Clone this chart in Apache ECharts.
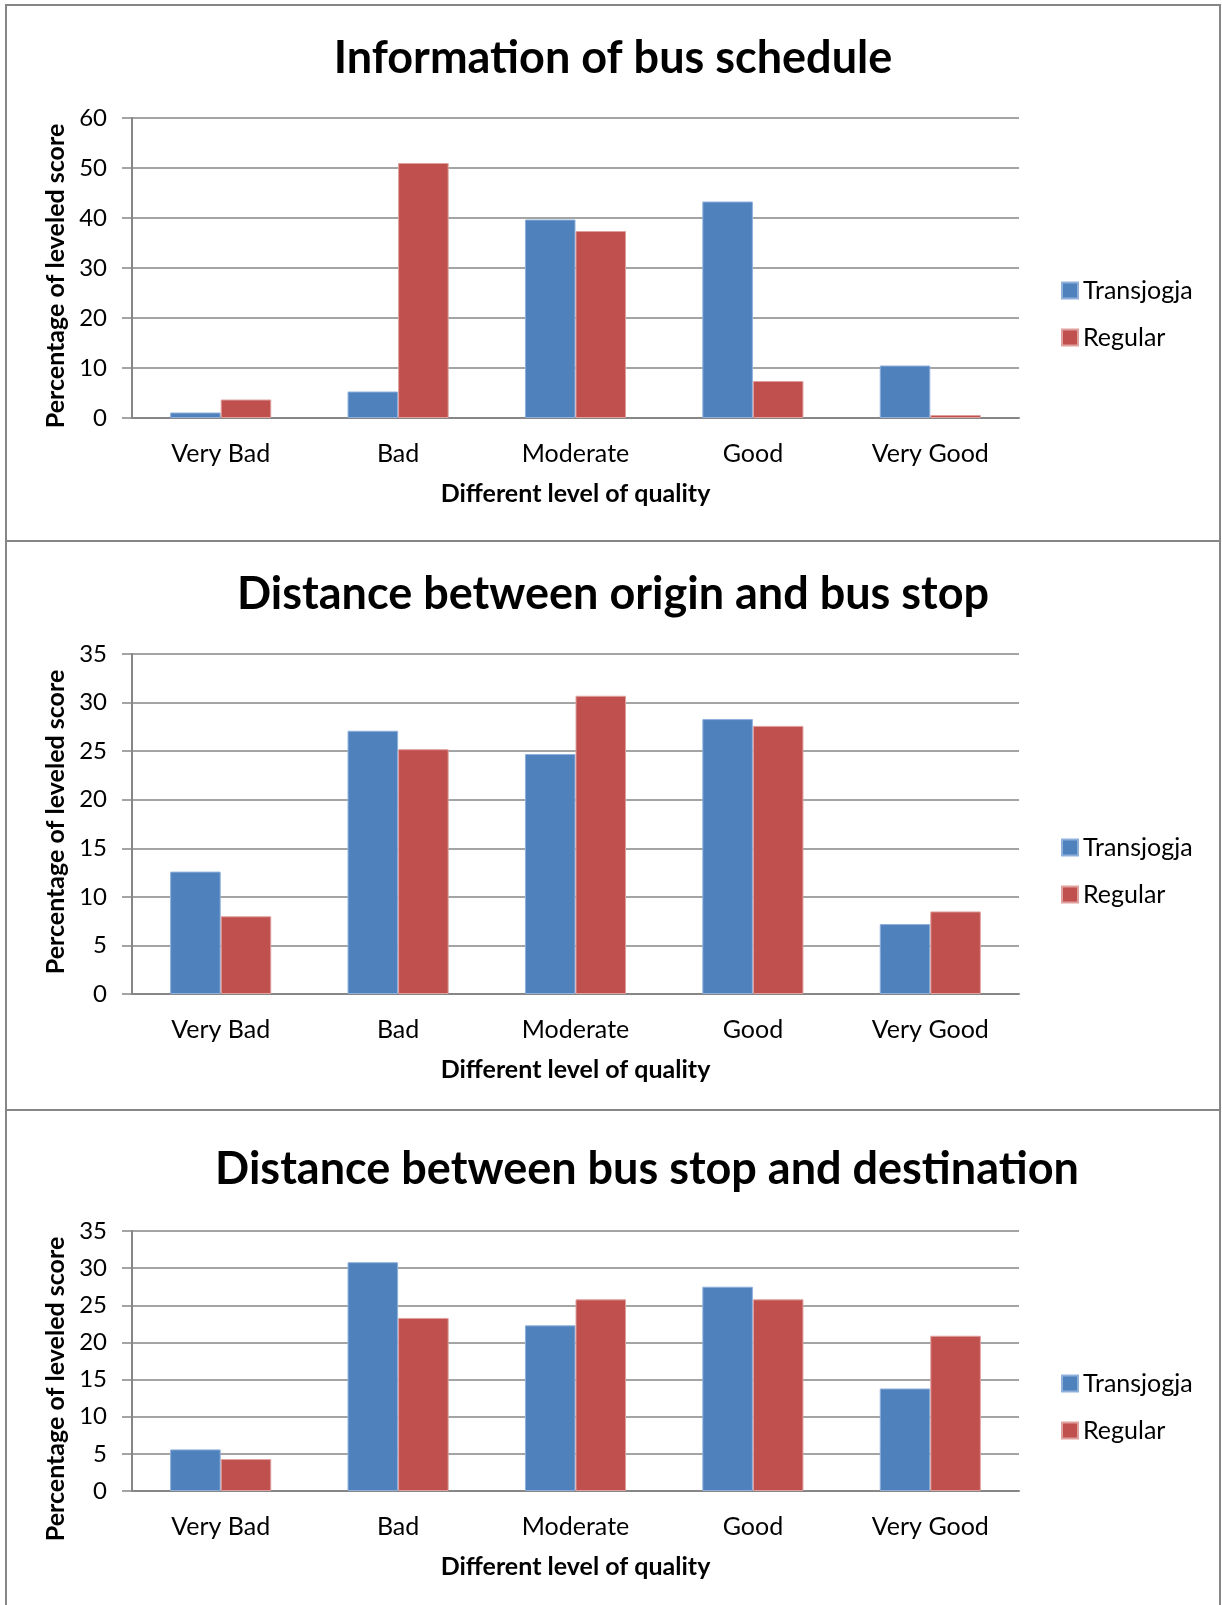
<!DOCTYPE html>
<html>
<head>
<meta charset="utf-8">
<script src="https://cdn.jsdelivr.net/npm/echarts@6/dist/echarts.min.js"></script>
<style>
  html, body { margin: 0; padding: 0; background: #ffffff; }
  #chart { width: 1222px; height: 1605px; }
</style>
</head>
<body>
<div id="chart"></div>
<script>
// Quality levels shared by all three panels
const categories = ['Very Bad', 'Bad', 'Moderate', 'Good', 'Very Good'];
const seriesNames = ['Transjogja', 'Regular'];

// Panel 1: Information of bus schedule (%)
const scheduleTransjogja = [1.1, 5.3, 39.7, 43.3, 10.5];
const scheduleRegular = [3.7, 51.0, 37.4, 7.4, 0.6];

// Panel 2: Distance between origin and bus stop (%)
const originTransjogja = [12.6, 27.1, 24.7, 28.3, 7.2];
const originRegular = [8.0, 25.2, 30.7, 27.6, 8.5];

// Panel 3: Distance between bus stop and destination (%)
const destTransjogja = [5.6, 30.8, 22.3, 27.5, 13.8];
const destRegular = [4.3, 23.3, 25.8, 25.8, 20.9];

const titles = [
  'Information of bus schedule',
  'Distance between origin and bus stop',
  'Distance between bus stop and destination'
];
const yMax = [60, 35, 35];
const yStep = [10, 5, 5];
const yAxisTitle = 'Percentage of leveled score';
const xAxisTitle = 'Different level of quality';

const FONT = 'Lato, "Liberation Sans", sans-serif';
const BLUE = '#4F81BD';
const RED = '#C0504D';
const GRID_GRAY = '#868686';

// Panel geometry
const panels = [
  { gridTop: 118, gridH: 300, titleX: 613, titleTop: 36, legendTop: 278, yNamePad: [0, 16, 0, 0] },
  { gridTop: 654, gridH: 340, titleX: 613, titleTop: 572, legendTop: 835, yNamePad: [0, 0, 0, 4] },
  { gridTop: 1231, gridH: 260, titleX: 647, titleTop: 1147, legendTop: 1371, yNamePad: [0, 56, 0, 0] }
];
const data = [
  [scheduleTransjogja, scheduleRegular],
  [originTransjogja, originRegular],
  [destTransjogja, destRegular]
];

const option = {
  backgroundColor: '#ffffff',
  animation: false,
  textStyle: { fontFamily: FONT },
  title: panels.map((p, i) => ({
    text: titles[i],
    left: p.titleX,
    textAlign: 'center',
    top: p.titleTop,
    padding: 0,
    textStyle: { fontFamily: FONT, fontWeight: 'bold', fontSize: 45, color: '#000' }
  })),
  legend: panels.map((p, i) => ({
    orient: 'vertical',
    left: 1061,
    top: p.legendTop,
    padding: 0,
    itemWidth: 16,
    itemHeight: 16,
    itemGap: 22,
    icon: 'rect',
    data: seriesNames,
    seriesIndex: [i * 2, i * 2 + 1],
    textStyle: { fontFamily: FONT, fontSize: 25, color: '#000' }
  })),
  grid: panels.map(p => ({ left: 132, top: p.gridTop, width: 887, height: p.gridH })),
  xAxis: panels.map((p, i) => ({
    type: 'category',
    gridIndex: i,
    data: categories,
    axisTick: { show: false },
    axisLine: { lineStyle: { color: GRID_GRAY, width: 2 } },
    axisLabel: { margin: 23, fontSize: 25, color: '#000', fontFamily: FONT },
    name: xAxisTitle,
    nameLocation: 'middle',
    nameGap: 63,
    nameTextStyle: { fontFamily: FONT, fontWeight: 'bold', fontSize: 25, color: '#000' }
  })),
  yAxis: panels.map((p, i) => ({
    type: 'value',
    gridIndex: i,
    min: 0,
    max: yMax[i],
    interval: yStep[i],
    axisLine: { show: true, lineStyle: { color: GRID_GRAY, width: 2 } },
    axisTick: { show: true, length: 10, lineStyle: { color: GRID_GRAY, width: 1.5 } },
    splitLine: { lineStyle: { color: GRID_GRAY, width: 1.5 } },
    axisLabel: { margin: 25, fontSize: 24, color: '#000', fontFamily: FONT },
    name: yAxisTitle,
    nameLocation: 'middle',
    nameGap: 58,
    nameTextStyle: { fontFamily: FONT, fontWeight: 'bold', fontSize: 25, color: '#000', padding: p.yNamePad }
  })),
  series: [],
  graphic: [
    // Outer frame and panel separators
    { type: 'rect', shape: { x: 6, y: 5, width: 1214, height: 1620 }, style: { fill: 'none', stroke: GRID_GRAY, lineWidth: 2 }, silent: true },
    { type: 'line', shape: { x1: 6, y1: 541, x2: 1220, y2: 541 }, style: { stroke: GRID_GRAY, lineWidth: 2 }, silent: true },
    { type: 'line', shape: { x1: 6, y1: 1110, x2: 1220, y2: 1110 }, style: { stroke: GRID_GRAY, lineWidth: 2 }, silent: true }
  ]
};

data.forEach((pair, i) => {
  pair.forEach((values, k) => {
    option.series.push({
      name: seriesNames[k],
      type: 'bar',
      xAxisIndex: i,
      yAxisIndex: i,
      data: values,
      barGap: '0%',
      barCategoryGap: '43%',
      itemStyle: {
        color: k === 0 ? BLUE : RED,
        borderColor: k === 0 ? '#8fb0db' : '#e0a09e',
        borderWidth: 1
      }
    });
  });
});

const chart = echarts.init(document.getElementById('chart'), null, { renderer: 'canvas' });
chart.setOption(option);
</script>
</body>
</html>
